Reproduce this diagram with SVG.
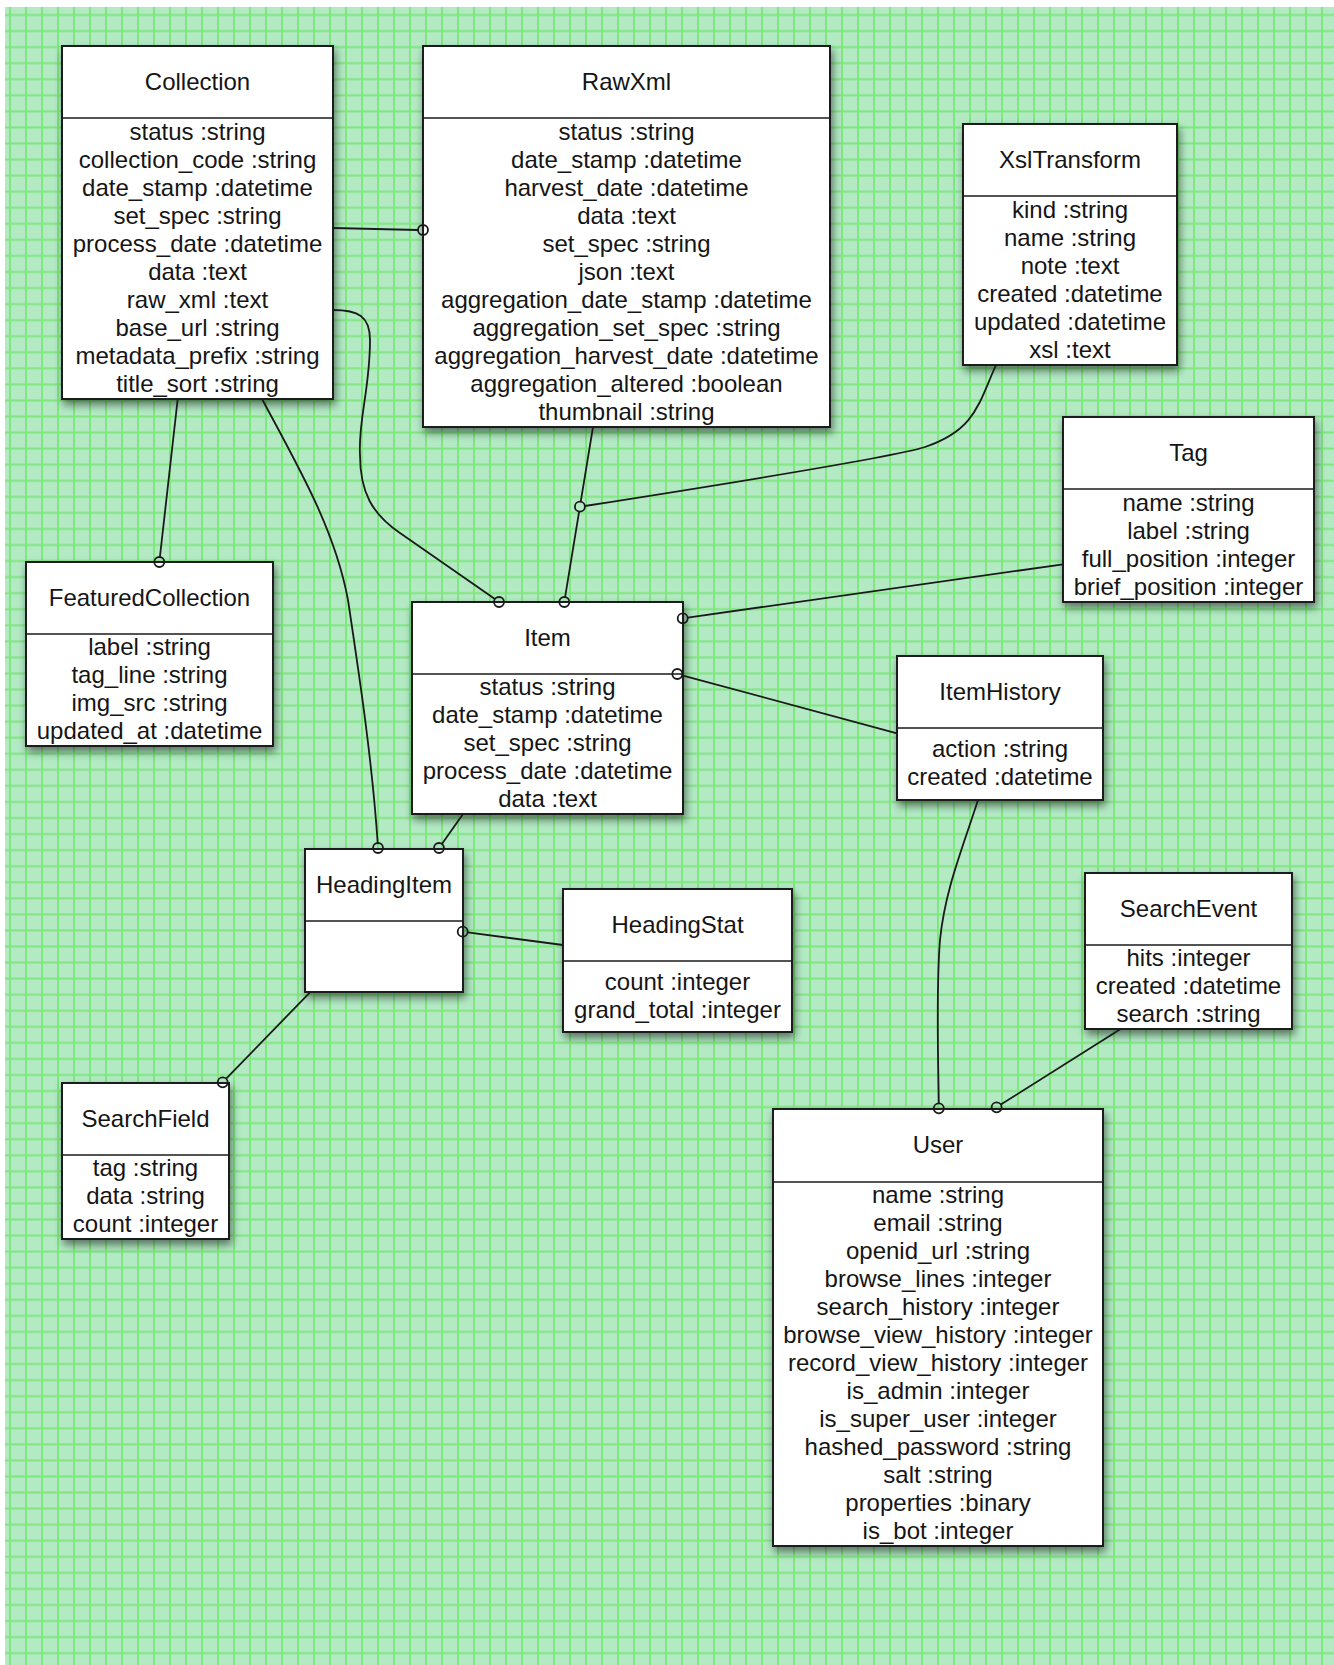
<svg xmlns="http://www.w3.org/2000/svg" width="1334" height="1665" viewBox="0 0 1334 1665">
<defs>
<pattern id="grid" x="2" y="7" width="16" height="16.06" patternUnits="userSpaceOnUse">
<rect width="16" height="16.06" fill="#b3eac4"/>
<line x1="8" y1="0" x2="8" y2="16.06" stroke="#80e680" stroke-width="2"/>
<line x1="0" y1="8" x2="16" y2="8" stroke="#80e680" stroke-width="2"/>
</pattern>
<filter id="sh" x="-10%" y="-10%" width="125%" height="125%">
<feDropShadow dx="2" dy="5" stdDeviation="4" flood-color="#000" flood-opacity="0.5"/>
</filter>
<style>
.box{fill:#fff;stroke:#1a1a1a;stroke-width:2;filter:url(#sh)}
.dv{stroke:#1a1a1a;stroke-width:1.6}
.t{font-family:"Liberation Sans",Arial,Helvetica,sans-serif;font-size:24px;fill:#151515;text-anchor:middle}
.cn{fill:none;stroke:#1a1a1a;stroke-width:1.8}
.ball{fill:none;stroke:#1a1a1a;stroke-width:1.8}
</style>
</defs>
<rect x="0" y="0" width="1334" height="1665" fill="#fff"/>
<rect x="5" y="7" width="1329" height="1658" fill="url(#grid)"/>

<g id="Collection">
<rect class="box" x="62" y="46" width="271" height="353"/>
<line class="dv" x1="62" y1="118" x2="333" y2="118"/>
<text class="t" x="197.5" y="90">Collection</text>
<text class="t"><tspan x="197.5" y="139.5">status :string</tspan><tspan x="197.5" dy="28">collection_code :string</tspan><tspan x="197.5" dy="28">date_stamp :datetime</tspan><tspan x="197.5" dy="28">set_spec :string</tspan><tspan x="197.5" dy="28">process_date :datetime</tspan><tspan x="197.5" dy="28">data :text</tspan><tspan x="197.5" dy="28">raw_xml :text</tspan><tspan x="197.5" dy="28">base_url :string</tspan><tspan x="197.5" dy="28">metadata_prefix :string</tspan><tspan x="197.5" dy="28">title_sort :string</tspan></text>
</g>

<g id="RawXml">
<rect class="box" x="423" y="46" width="407" height="381"/>
<line class="dv" x1="423" y1="118" x2="830" y2="118"/>
<text class="t" x="626.5" y="90">RawXml</text>
<text class="t"><tspan x="626.5" y="139.5">status :string</tspan><tspan x="626.5" dy="28">date_stamp :datetime</tspan><tspan x="626.5" dy="28">harvest_date :datetime</tspan><tspan x="626.5" dy="28">data :text</tspan><tspan x="626.5" dy="28">set_spec :string</tspan><tspan x="626.5" dy="28">json :text</tspan><tspan x="626.5" dy="28">aggregation_date_stamp :datetime</tspan><tspan x="626.5" dy="28">aggregation_set_spec :string</tspan><tspan x="626.5" dy="28">aggregation_harvest_date :datetime</tspan><tspan x="626.5" dy="28">aggregation_altered :boolean</tspan><tspan x="626.5" dy="28">thumbnail :string</tspan></text>
</g>

<g id="XslTransform">
<rect class="box" x="963" y="124" width="214" height="241"/>
<line class="dv" x1="963" y1="196" x2="1177" y2="196"/>
<text class="t" x="1070" y="168">XslTransform</text>
<text class="t"><tspan x="1070" y="217.5">kind :string</tspan><tspan x="1070" dy="28">name :string</tspan><tspan x="1070" dy="28">note :text</tspan><tspan x="1070" dy="28">created :datetime</tspan><tspan x="1070" dy="28">updated :datetime</tspan><tspan x="1070" dy="28">xsl :text</tspan></text>
</g>

<g id="Tag">
<rect class="box" x="1063" y="417" width="251" height="185"/>
<line class="dv" x1="1063" y1="489" x2="1314" y2="489"/>
<text class="t" x="1188.5" y="461">Tag</text>
<text class="t"><tspan x="1188.5" y="510.5">name :string</tspan><tspan x="1188.5" dy="28">label :string</tspan><tspan x="1188.5" dy="28">full_position :integer</tspan><tspan x="1188.5" dy="28">brief_position :integer</tspan></text>
</g>

<g id="FeaturedCollection">
<rect class="box" x="26" y="562" width="247" height="184"/>
<line class="dv" x1="26" y1="634" x2="273" y2="634"/>
<text class="t" x="149.5" y="606">FeaturedCollection</text>
<text class="t"><tspan x="149.5" y="655">label :string</tspan><tspan x="149.5" dy="28">tag_line :string</tspan><tspan x="149.5" dy="28">img_src :string</tspan><tspan x="149.5" dy="28">updated_at :datetime</tspan></text>
</g>

<g id="Item">
<rect class="box" x="412" y="602" width="271" height="212"/>
<line class="dv" x1="412" y1="674" x2="683" y2="674"/>
<text class="t" x="547.5" y="646">Item</text>
<text class="t"><tspan x="547.5" y="695">status :string</tspan><tspan x="547.5" dy="28">date_stamp :datetime</tspan><tspan x="547.5" dy="28">set_spec :string</tspan><tspan x="547.5" dy="28">process_date :datetime</tspan><tspan x="547.5" dy="28">data :text</tspan></text>
</g>

<g id="ItemHistory">
<rect class="box" x="897" y="656" width="206" height="144"/>
<line class="dv" x1="897" y1="728" x2="1103" y2="728"/>
<text class="t" x="1000" y="700">ItemHistory</text>
<text class="t"><tspan x="1000" y="757">action :string</tspan><tspan x="1000" dy="28">created :datetime</tspan></text>
</g>

<g id="HeadingItem">
<rect class="box" x="305" y="849" width="158" height="143"/>
<line class="dv" x1="305" y1="921" x2="463" y2="921"/>
<text class="t" x="384" y="893">HeadingItem</text>
</g>

<g id="HeadingStat">
<rect class="box" x="563" y="889" width="229" height="143"/>
<line class="dv" x1="563" y1="961" x2="792" y2="961"/>
<text class="t" x="677.5" y="933">HeadingStat</text>
<text class="t"><tspan x="677.5" y="989.5">count :integer</tspan><tspan x="677.5" dy="28">grand_total :integer</tspan></text>
</g>

<g id="SearchField">
<rect class="box" x="62" y="1083" width="167" height="156"/>
<line class="dv" x1="62" y1="1155" x2="229" y2="1155"/>
<text class="t" x="145.5" y="1127">SearchField</text>
<text class="t"><tspan x="145.5" y="1176">tag :string</tspan><tspan x="145.5" dy="28">data :string</tspan><tspan x="145.5" dy="28">count :integer</tspan></text>
</g>

<g id="SearchEvent">
<rect class="box" x="1085" y="873" width="207" height="156"/>
<line class="dv" x1="1085" y1="945" x2="1292" y2="945"/>
<text class="t" x="1188.5" y="917">SearchEvent</text>
<text class="t"><tspan x="1188.5" y="966">hits :integer</tspan><tspan x="1188.5" dy="28">created :datetime</tspan><tspan x="1188.5" dy="28">search :string</tspan></text>
</g>

<g id="User">
<rect class="box" x="773" y="1109" width="330" height="437"/>
<line class="dv" x1="773" y1="1182" x2="1103" y2="1182"/>
<text class="t" x="938" y="1153">User</text>
<text class="t"><tspan x="938" y="1203">name :string</tspan><tspan x="938" dy="28">email :string</tspan><tspan x="938" dy="28">openid_url :string</tspan><tspan x="938" dy="28">browse_lines :integer</tspan><tspan x="938" dy="28">search_history :integer</tspan><tspan x="938" dy="28">browse_view_history :integer</tspan><tspan x="938" dy="28">record_view_history :integer</tspan><tspan x="938" dy="28">is_admin :integer</tspan><tspan x="938" dy="28">is_super_user :integer</tspan><tspan x="938" dy="28">hashed_password :string</tspan><tspan x="938" dy="28">salt :string</tspan><tspan x="938" dy="28">properties :binary</tspan><tspan x="938" dy="28">is_bot :integer</tspan></text>
</g>

<g id="connectors">
<path class="cn" d="M333,228 L418,230"/>
<circle class="ball" cx="423" cy="230" r="5"/>
<path class="cn" d="M333,310 C358,310 370,316 370,340 C370,390 358,420 360,455 C360,492 372,514 400,533 L494.9,599.1"/>
<circle class="ball" cx="499" cy="602" r="5"/>
<path class="cn" d="M177.7,399 L159.9,557"/>
<circle class="ball" cx="159.3" cy="562" r="5"/>
<path class="cn" d="M262,399 C300,470 335,530 348,600 C360,680 372,760 377.7,843"/>
<circle class="ball" cx="378" cy="848" r="5"/>
<path class="cn" d="M593,427 L580.7,501.8 M579.1,511.6 L565.1,597.1"/>
<circle class="ball" cx="564.3" cy="602" r="5"/>
<circle class="ball" cx="579.9" cy="506.7" r="5"/>
<path class="cn" d="M996,365 C978,405 975,430 925,447 C890,458 700,488 584.8,506"/>
<path class="cn" d="M1063,564.3 L687.7,617.6"/>
<circle class="ball" cx="682.7" cy="618.3" r="5"/>
<path class="cn" d="M682.1,675.3 L897,733.3"/>
<circle class="ball" cx="677.3" cy="674" r="5"/>
<path class="cn" d="M463,814 L441.9,843.9"/>
<circle class="ball" cx="439" cy="848" r="5"/>
<path class="cn" d="M467.7,932.4 L563,945"/>
<circle class="ball" cx="462.7" cy="931.7" r="5"/>
<path class="cn" d="M310,992.3 L226.2,1078.7"/>
<circle class="ball" cx="222.7" cy="1082.3" r="5"/>
<path class="cn" d="M978,800 C962,850 945,890 940,940 C936,990 938,1050 938.8,1103.3"/>
<circle class="ball" cx="938.8" cy="1108.3" r="5"/>
<path class="cn" d="M1120.6,1029 L1000.8,1104.6"/>
<circle class="ball" cx="996.6" cy="1107.3" r="5"/>
</g>
</svg>
